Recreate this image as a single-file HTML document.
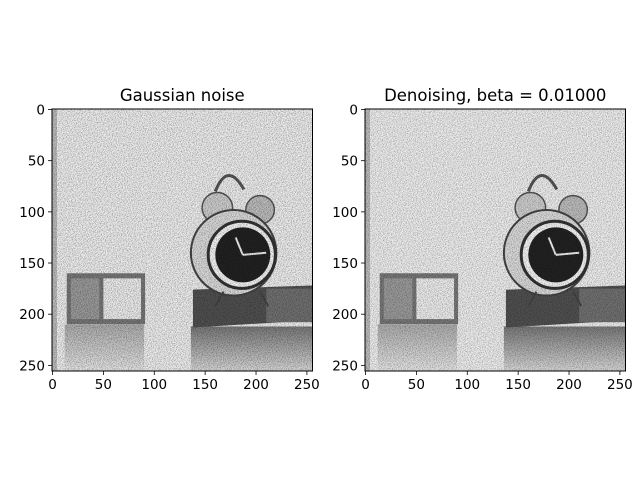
<!DOCTYPE html>
<html><head><meta charset="utf-8"><style>
html,body{margin:0;padding:0;background:#fff}
svg text{font-family:"DejaVu Sans","Liberation Sans",sans-serif;fill:#000}
</style></head><body>
<svg id="fig" width="640" height="480" viewBox="0 0 640 480" xmlns="http://www.w3.org/2000/svg">
<defs>
<filter id="noise" x="0" y="0" width="100%" height="100%">
<feTurbulence type="fractalNoise" baseFrequency="1.2" numOctaves="1" seed="3" result="t"/>
<feColorMatrix type="matrix" values="0 0 0 0 0  0 0 0 0 0  0 0 0 0 0  -2.2 0 0 0 1.25" />
</filter>
<linearGradient id="refl" x1="0" y1="0" x2="0" y2="1"><stop offset="0" stop-color="#777"/><stop offset="1" stop-color="#d8d8d8"/></linearGradient>
<linearGradient id="refl2" x1="0" y1="0" x2="0" y2="1"><stop offset="0" stop-color="#aaa"/><stop offset="1" stop-color="#e4e4e4"/></linearGradient>
</defs>
</svg>
<script>
const titles=["Gaussian noise","Denoising, beta = 0.01000"];
const xTicks=[0,50,100,150,200,250];
const yTicks=[0,50,100,150,200,250];
const imgSize=[256,256];
const axesLeft=[52,365];
const NS="http://www.w3.org/2000/svg";
const svg=document.getElementById('fig');
function mk(tag,attrs,parent){const e=document.createElementNS(NS,tag);for(const k in attrs)e.setAttribute(k,attrs[k]);(parent||svg).appendChild(e);return e;}
const top0=109,W=260.5,H=262;
titles.forEach((t,i)=>{
  const L=axesLeft[i];
  const sx=v=>L+(v+0.5)/imgSize[0]*W, sy=v=>top0+(v+0.5)/imgSize[1]*H;
  const k=W/imgSize[0];
  const g=mk('g',{});
  
  
  const clip=mk('clipPath',{id:'c'+i},svg.querySelector('defs'));
  mk('rect',{x:L,y:top0,width:W,height:H},clip);
  const img=mk('g',{'clip-path':'url(#c'+i+')'},g);
  
  
  mk('rect',{x:L,y:top0,width:W,height:H,fill:'#ececec'},img);
  mk('rect',{x:L,y:top0,width:5,height:H,fill:'#bbb'},img);
  mk('rect',{x:sx(12),y:sy(210),width:78*k,height:46*k,fill:'url(#refl2)'},img);
  mk('rect',{x:sx(136),y:sy(212),width:120*k,height:44*k,fill:'url(#refl)'},img);
  mk('rect',{x:sx(14),y:sy(160),width:77*k,height:50*k,fill:'#777'},img);
  mk('rect',{x:sx(18),y:sy(165),width:28*k,height:40*k,fill:'#999'},img);
  mk('rect',{x:sx(50),y:sy(165),width:37*k,height:40*k,fill:'#eaeaea'},img);
  mk('path',{d:`M${sx(138)} ${sy(176)} L${sx(255)} ${sy(172)} L${sx(255)} ${sy(206)} L${sx(138)} ${sy(213)} Z`,fill:'#505050'},img);
  mk('rect',{x:sx(210),y:sy(175),width:45*k,height:33*k,fill:'#707070'},img);
  mk('path',{d:`M${sx(160)} ${sy(80)} Q${sx(172)} ${sy(50)} ${sx(188)} ${sy(78)}`,fill:'none',stroke:'#555','stroke-width':3},img);
  mk('circle',{cx:sx(162),cy:sy(96),r:15*k,fill:'#ccc',stroke:'#555','stroke-width':1.5},img);
  mk('circle',{cx:sx(204),cy:sy(98),r:14*k,fill:'#bbb',stroke:'#555','stroke-width':1.5},img);
  mk('circle',{cx:sx(178),cy:sy(140),r:42*k,fill:'#d8d8d8',stroke:'#444','stroke-width':2},img);
  mk('circle',{cx:sx(186),cy:sy(142),r:33*k,fill:'#f2f2f2',stroke:'#333','stroke-width':3},img);
  mk('circle',{cx:sx(187),cy:sy(142),r:27*k,fill:'#222'},img);
  mk('line',{x1:sx(187),y1:sy(142),x2:sx(210),y2:sy(140),stroke:'#eee','stroke-width':2},img);
  mk('line',{x1:sx(187),y1:sy(142),x2:sx(180),y2:sy(125),stroke:'#eee','stroke-width':2},img);
  mk('path',{d:`M${sx(168)} ${sy(178)} L${sx(160)} ${sy(192)} M${sx(204)} ${sy(178)} L${sx(212)} ${sy(192)}`,stroke:'#444','stroke-width':2},img);
  mk('rect',{x:L,y:top0,width:W,height:H,fill:'#000',filter:'url(#noise)',opacity:i?0.5:0.55},img);
  const fr=mk('rect',{x:L,y:top0,width:W,height:H,fill:'none',stroke:'#000','stroke-width':1},g);
  
  
  const tt=mk('text',{x:L+W/2,y:101,'text-anchor':'middle','font-size':'16.5px'},g);
  tt.textContent=t;
  
  
  xTicks.forEach(v=>{const x=sx(v);
    mk('line',{x1:x,y1:top0+H,x2:x,y2:top0+H+4,stroke:'#000','stroke-width':0.8},g);
    const tx=mk('text',{x:x,y:top0+H+18,'text-anchor':'middle','font-size':'13.5px'},g);tx.textContent=v;
    
    });
  yTicks.forEach(v=>{const y=sy(v);
    mk('line',{x1:L-4,y1:y,x2:L,y2:y,stroke:'#000','stroke-width':0.8},g);
    const ty=mk('text',{x:L-7,y:y+5,'text-anchor':'end','font-size':'13.5px'},g);ty.textContent=v;
    
    });
});
</script>
</body></html>
